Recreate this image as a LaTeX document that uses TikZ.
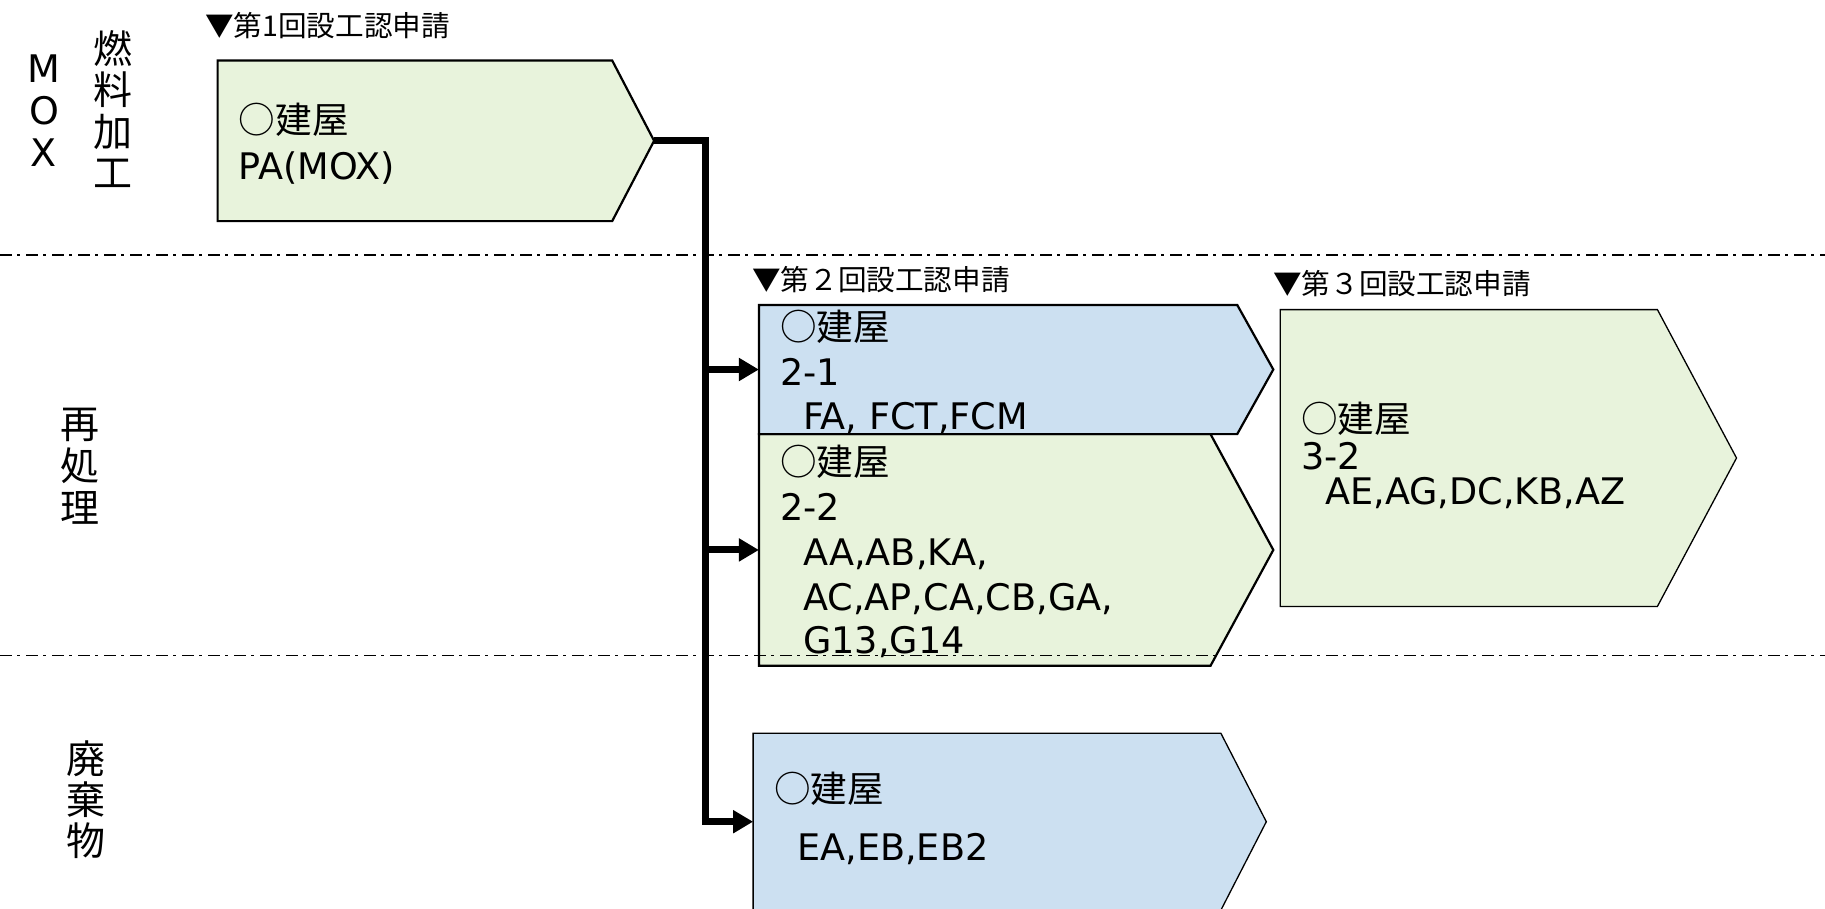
\documentclass[tikz,border=0pt]{standalone}
\usepackage{fontspec}
\setmainfont{DejaVu Sans}
\newfontfamily\jpfont{Noto Sans CJK JP}
\usetikzlibrary{arrows.meta}

\definecolor{boxgreen}{HTML}{E8F3DC}
\definecolor{boxblue}{HTML}{CCE0F1}

% pentagon-shaped arrow box: name, left, top, bottom, shoulder x, tip x, style
\newcommand\arrowbox[7]{%
  \path[#7] (#2,#3) -- (#5,#3) -- (#6,{(#3+#4)/2}) -- (#5,#4) -- (#2,#4) -- cycle;
  \coordinate (#1-in) at (#2,{(#3+#4)/2});
  \coordinate (#1-out) at (#6,{(#3+#4)/2});
}

\tikzset{
  greenbox/.style={fill=boxgreen, draw=black, line width=2.2pt, line join=miter},
  bluebox/.style={fill=boxblue, draw=black, line width=2.2pt, line join=miter},
  thinbox/.style={line width=1.3pt},
  phase/.style={font=\fontsize{28.6}{31}\selectfont\jpfont, anchor=base west, inner sep=0pt},
  txt/.style={font=\fontsize{36.6}{40}\selectfont, anchor=base west, inner sep=0pt},
  side/.style={align=center, inner sep=0pt, font=\fontsize{38}{42}\selectfont},
  sep/.style={line width=1.4pt, dash pattern=on 12pt off 5pt on 3pt off 6pt},
  trunk/.style={line width=7pt, line join=miter},
  feed/.style={line width=7pt, -{Triangle[length=20pt,width=22pt]}},
}

\begin{document}
\begin{tikzpicture}[x=1pt,y=-1pt]
\useasboundingbox (0,0) rectangle (1825,908);

% boxes
\arrowbox{PA}{217.6}{60.5}{221.1}{612.2}{654.1}{greenbox}
\arrowbox{B22}{758.9}{434.1}{665.8}{1210.5}{1273.3}{greenbox}
\arrowbox{B21}{758.9}{304.9}{434.1}{1237.2}{1273.3}{bluebox}
\arrowbox{B32}{1280.3}{309.6}{606.4}{1657.4}{1736.5}{greenbox,thinbox}
\arrowbox{EA}{753.1}{733.3}{910.1}{1220.9}{1266.3}{bluebox,thinbox}

% application headings
\node[phase] (h1) at (205,36) {▼第1回設工認申請};
\node[phase] (h2) at (752,290) {▼第２回設工認申請};
\node[phase] (h3) at (1273,294) {▼第３回設工認申請};

% side labels
\node[side] (mox) at (44,111) {M\\O\\X};
\node[side, font=\fontsize{39}{41.5}\selectfont\jpfont] (fuel) at (113,109) {燃\\料\\加\\工};
\node[side, font=\fontsize{39}{42}\selectfont\jpfont] (repro) at (80,466) {再\\処\\理};
\node[side, font=\fontsize{39}{41}\selectfont\jpfont] (waste) at (86,800) {廃\\棄\\物};

% box contents
\node[txt] (pa1) at (238.6,133) {\jpfont ○建屋};
\node[txt] (pa2) at (238.6,179) {PA(MOX)};

\node[txt] (a1) at (780,340) {\jpfont ○建屋};
\node[txt] (a2) at (780,385) {2-1};
\node[txt] (a3) at (803,429) {FA, FCT,FCM};

\node[txt] (b1) at (780,475) {\jpfont ○建屋};
\node[txt] (b2) at (780,520) {2-2};
\node[txt] (b3) at (803,565) {AA,AB,KA,};
\node[txt] (b4) at (803,610) {AC,AP,CA,CB,GA,};
\node[txt] (b5) at (803,653) {G13,G14};

\node[txt] (c1) at (1301,432) {\jpfont ○建屋};
\node[txt] (c2) at (1301,469) {3-2};
\node[txt] (c3) at (1325,504) {AE,AG,DC,KB,AZ};

\node[txt] (e1) at (774,802) {\jpfont ○建屋};
\node[txt] (e2) at (797,860) {EA,EB,EB2};

% section separators
\coordinate (s1l) at (0,254.9);
\coordinate (s1r) at (1825,254.9);
\coordinate (s2l) at (0,655.3);
\coordinate (s2r) at (1825,655.3);
\draw[sep] (s1l) -- (s1r);
\draw[sep] (s2l) -- (s2r);

% feed lines
\coordinate (jt) at (705.3,140.8);
\draw[trunk] (PA-out) -- (jt) -- (jt |- EA-in);
\draw[feed] ([xshift=-3.5pt]jt |- EA-in) -- (EA-in);
\draw[feed] (jt |- B21-in) -- (B21-in);
\draw[feed] (jt |- B22-in) -- (B22-in);
\end{tikzpicture}
\end{document}
